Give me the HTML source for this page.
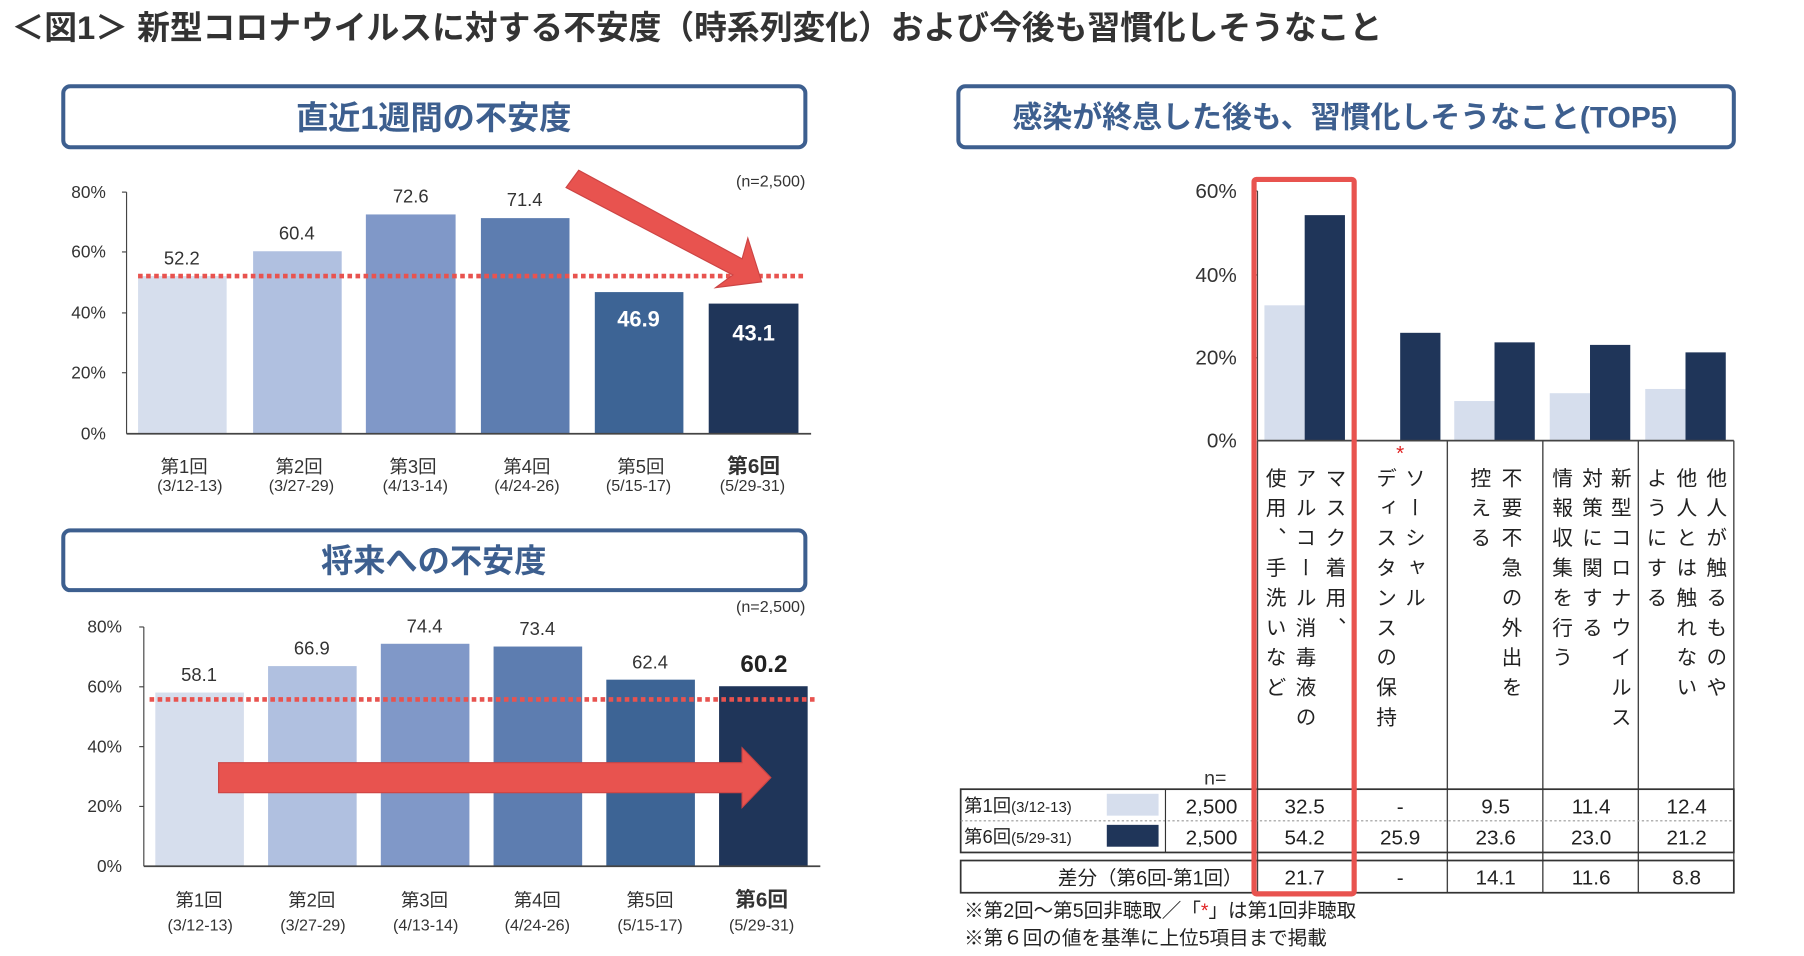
<!DOCTYPE html>
<html><head><meta charset="utf-8"><style>
html,body{margin:0;padding:0;background:#fff;}
svg{display:block;font-family:"Liberation Sans","Noto Sans CJK JP",sans-serif;}
.v{writing-mode:vertical-rl;font-size:18px;letter-spacing:8px;fill:#222;}
</style></head><body>
<svg width="1804" height="956" viewBox="0 0 1568 831" preserveAspectRatio="none" xmlns="http://www.w3.org/2000/svg">
<text x="10" y="34" font-size="28.5" font-weight="bold" fill="#333">＜図1＞ 新型コロナウイルスに対する不安度（時系列変化）および今後も習慣化しそうなこと</text>

<rect x="55" y="75" width="645" height="53" rx="6" fill="#fff" stroke="#3d5f8f" stroke-width="3.5"/>
<text x="377" y="112" font-size="28" font-weight="bold" fill="#3d5f8f" text-anchor="middle">直近1週間の不安度</text>
<text x="700" y="162" font-size="14" fill="#333" text-anchor="end">(n=2,500)</text>
<g font-size="15" fill="#333" text-anchor="end">
<text x="92" y="172">80%</text><text x="92" y="224">60%</text><text x="92" y="277">40%</text><text x="92" y="329">20%</text><text x="92" y="382">0%</text>
</g>
<line x1="110" y1="167" x2="110" y2="377" stroke="#444"/>
<g stroke="#444"><line x1="106" y1="167" x2="110" y2="167"/><line x1="106" y1="219" x2="110" y2="219"/><line x1="106" y1="272" x2="110" y2="272"/><line x1="106" y1="324" x2="110" y2="324"/></g>
<rect x="120" y="240" width="77" height="137" fill="#d6deed"/>
<rect x="220" y="218.4" width="77" height="158.6" fill="#b0c0e0"/>
<rect x="318" y="186.4" width="78" height="190.6" fill="#8098c8"/>
<rect x="418" y="189.6" width="77" height="187.4" fill="#5d7db0"/>
<rect x="517" y="253.9" width="77" height="123.1" fill="#3d6495"/>
<rect x="616" y="263.9" width="78" height="113.1" fill="#1f3559"/>
<line x1="110" y1="377" x2="705" y2="377" stroke="#444" stroke-width="1.5"/>
<line x1="120" y1="240" x2="700" y2="240" stroke="#e8534f" stroke-width="4" stroke-dasharray="4,3"/>
<g font-size="16" fill="#333" text-anchor="middle">
<text x="158" y="230">52.2</text><text x="258" y="208">60.4</text><text x="357" y="176">72.6</text><text x="456" y="179">71.4</text>
</g>
<text x="555" y="284" font-size="19" font-weight="bold" fill="#fff" text-anchor="middle">46.9</text>
<text x="655" y="296" font-size="19" font-weight="bold" fill="#fff" text-anchor="middle">43.1</text>
<polygon points="503,148 645,225 650,207 662,245 622,250 637,239 492,163" fill="#e8534f" stroke="#c44" stroke-width="1"/>
<g font-size="16" fill="#333" text-anchor="middle">
<text x="160" y="411">第1回</text><text x="260" y="411">第2回</text><text x="359" y="411">第3回</text><text x="458" y="411">第4回</text><text x="557" y="411">第5回</text><text x="655" y="411" font-weight="bold" font-size="18">第6回</text>
</g>
<g font-size="14" fill="#333" text-anchor="middle">
<text x="165" y="427">(3/12-13)</text><text x="262" y="427">(3/27-29)</text><text x="361" y="427">(4/13-14)</text><text x="458" y="427">(4/24-26)</text><text x="555" y="427">(5/15-17)</text><text x="654" y="427">(5/29-31)</text>
</g>

<rect x="55" y="461" width="645" height="52" rx="6" fill="#fff" stroke="#3d5f8f" stroke-width="3.5"/>
<text x="377" y="497" font-size="28" font-weight="bold" fill="#3d5f8f" text-anchor="middle">将来への不安度</text>
<text x="700" y="532" font-size="14" fill="#333" text-anchor="end">(n=2,500)</text>
<g font-size="15" fill="#333" text-anchor="end">
<text x="106" y="550">80%</text><text x="106" y="602">60%</text><text x="106" y="654">40%</text><text x="106" y="706">20%</text><text x="106" y="758">0%</text>
</g>
<line x1="125" y1="545" x2="125" y2="753" stroke="#444"/>
<g stroke="#444"><line x1="121" y1="545" x2="125" y2="545"/><line x1="121" y1="597" x2="125" y2="597"/><line x1="121" y1="649" x2="125" y2="649"/><line x1="121" y1="701" x2="125" y2="701"/></g>
<rect x="135" y="602" width="77" height="151" fill="#d6deed"/>
<rect x="233" y="579" width="77" height="174" fill="#b0c0e0"/>
<rect x="331" y="559.6" width="77" height="193.4" fill="#8098c8"/>
<rect x="429" y="562" width="77" height="191" fill="#5d7db0"/>
<rect x="527" y="590.8" width="77" height="162.2" fill="#3d6495"/>
<rect x="625" y="596.5" width="77" height="156.5" fill="#1f3559"/>
<line x1="125" y1="753" x2="713" y2="753" stroke="#444" stroke-width="1.5"/>
<line x1="130" y1="608" x2="708" y2="608" stroke="#e8534f" stroke-width="4" stroke-dasharray="4,3"/>
<g font-size="16" fill="#333" text-anchor="middle">
<text x="173" y="592">58.1</text><text x="271" y="569">66.9</text><text x="369" y="550">74.4</text><text x="467" y="552">73.4</text><text x="565" y="581">62.4</text>
</g>
<text x="664" y="584" font-size="21" font-weight="bold" fill="#222" text-anchor="middle">60.2</text>
<polygon points="190,663 645,663 645,650 670,676 645,702 645,689 190,689" fill="#e8534f" stroke="#c44" stroke-width="1"/>
<g font-size="16" fill="#333" text-anchor="middle">
<text x="173" y="788">第1回</text><text x="271" y="788">第2回</text><text x="369" y="788">第3回</text><text x="467" y="788">第4回</text><text x="565" y="788">第5回</text><text x="662" y="788" font-weight="bold" font-size="18">第6回</text>
</g>
<g font-size="14" fill="#333" text-anchor="middle">
<text x="174" y="809">(3/12-13)</text><text x="272" y="809">(3/27-29)</text><text x="370" y="809">(4/13-14)</text><text x="467" y="809">(4/24-26)</text><text x="565" y="809">(5/15-17)</text><text x="662" y="809">(5/29-31)</text>
</g>

<rect x="833" y="75" width="674" height="53" rx="6" fill="#fff" stroke="#3d5f8f" stroke-width="3.5"/>
<text x="1169" y="111" font-size="26" font-weight="bold" fill="#3d5f8f" text-anchor="middle">感染が終息した後も、習慣化しそうなこと(TOP5)</text>
<g font-size="18" fill="#333" text-anchor="end">
<text x="1075" y="172">60%</text><text x="1075" y="245">40%</text><text x="1075" y="317">20%</text><text x="1075" y="389">0%</text>
</g>
<line x1="1093" y1="166" x2="1093" y2="383" stroke="#444"/>
<g stroke="#444"><line x1="1089" y1="166" x2="1093" y2="166"/><line x1="1089" y1="239" x2="1093" y2="239"/><line x1="1089" y1="311" x2="1093" y2="311"/></g>
<rect x="1099" y="265.4" width="35" height="117.6" fill="#d6deed"/>
<rect x="1134" y="187" width="35" height="196" fill="#1f3559"/>
<rect x="1217" y="289.3" width="35" height="93.7" fill="#1f3559"/>
<rect x="1264" y="348.6" width="35" height="34.4" fill="#d6deed"/>
<rect x="1299" y="297.6" width="35" height="85.4" fill="#1f3559"/>
<rect x="1347" y="341.8" width="35" height="41.2" fill="#d6deed"/>
<rect x="1382" y="299.8" width="35" height="83.2" fill="#1f3559"/>
<rect x="1430" y="338.1" width="35" height="44.9" fill="#d6deed"/>
<rect x="1465" y="306.3" width="35" height="76.7" fill="#1f3559"/>
<line x1="1093" y1="383" x2="1507" y2="383" stroke="#444" stroke-width="1.5"/>
<g stroke="#444" stroke-width="1.2">
<line x1="1093" y1="383" x2="1093" y2="776"/><line x1="1176" y1="383" x2="1176" y2="776"/><line x1="1258" y1="383" x2="1258" y2="776"/><line x1="1341" y1="383" x2="1341" y2="776"/><line x1="1424" y1="383" x2="1424" y2="776"/><line x1="1507" y1="383" x2="1507" y2="776"/>
</g>
<text x="1217" y="400" font-size="18" fill="#e02020" text-anchor="middle">*</text>
<g class="v">
<text class="v" x="1159" y="406">マスク着用、</text>
<text class="v" x="1133" y="406">アルコール消毒液の</text>
<text class="v" x="1107" y="406">使用、手洗いなど</text>
<text class="v" x="1228" y="406">ソーシャル</text>
<text class="v" x="1203" y="406">ディスタンスの保持</text>
<text class="v" x="1312" y="406">不要不急の外出を</text>
<text class="v" x="1285" y="406">控える</text>
<text class="v" x="1407" y="406">新型コロナウイルス</text>
<text class="v" x="1382" y="406">対策に関する</text>
<text class="v" x="1356" y="406">情報収集を行う</text>
<text class="v" x="1490" y="406">他人が触るものや</text>
<text class="v" x="1464" y="406">他人とは触れない</text>
<text class="v" x="1438" y="406">ようにする</text>
</g>
<text x="1066" y="682" font-size="17" fill="#333" text-anchor="end">n=</text>
<g stroke="#333" fill="none">
<rect x="835" y="686" width="672" height="55" stroke-width="1.5"/>
<line x1="835" y1="713.5" x2="1507" y2="713.5" stroke="#999" stroke-dasharray="2,2"/>
<line x1="1013" y1="686" x2="1013" y2="741"/>
<rect x="835" y="748" width="672" height="28" stroke-width="1.5"/>
</g>
<rect x="962" y="690" width="45" height="19" fill="#d6deed"/>
<rect x="962" y="717" width="45" height="19" fill="#1f3559"/>
<g font-size="16" fill="#222">
<text x="838" y="706">第1回<tspan font-size="13">(3/12-13)</tspan></text>
<text x="838" y="733">第6回<tspan font-size="13">(5/29-31)</tspan></text>
</g>
<g font-size="18" fill="#222" text-anchor="middle">
<text x="1053" y="707">2,500</text><text x="1134" y="707">32.5</text><text x="1217" y="707">-</text><text x="1300" y="707">9.5</text><text x="1383" y="707">11.4</text><text x="1466" y="707">12.4</text>
<text x="1053" y="734">2,500</text><text x="1134" y="734">54.2</text><text x="1217" y="734">25.9</text><text x="1300" y="734">23.6</text><text x="1383" y="734">23.0</text><text x="1466" y="734">21.2</text>
<text x="1134" y="769">21.7</text><text x="1217" y="769">-</text><text x="1300" y="769">14.1</text><text x="1383" y="769">11.6</text><text x="1466" y="769">8.8</text>
</g>
<text x="1080" y="769" font-size="17" fill="#222" text-anchor="end">差分（第6回-第1回）</text>
<rect x="1090" y="156" width="87" height="621" fill="none" stroke="#e8534f" stroke-width="4.5" rx="2"/>
<text x="838" y="797" font-size="17" fill="#222">※第2回～第5回非聴取／「<tspan fill="#e02020">*</tspan>」は第1回非聴取</text>
<text x="838" y="821" font-size="17" fill="#222">※第６回の値を基準に上位5項目まで掲載</text>
</svg>
</body></html>
